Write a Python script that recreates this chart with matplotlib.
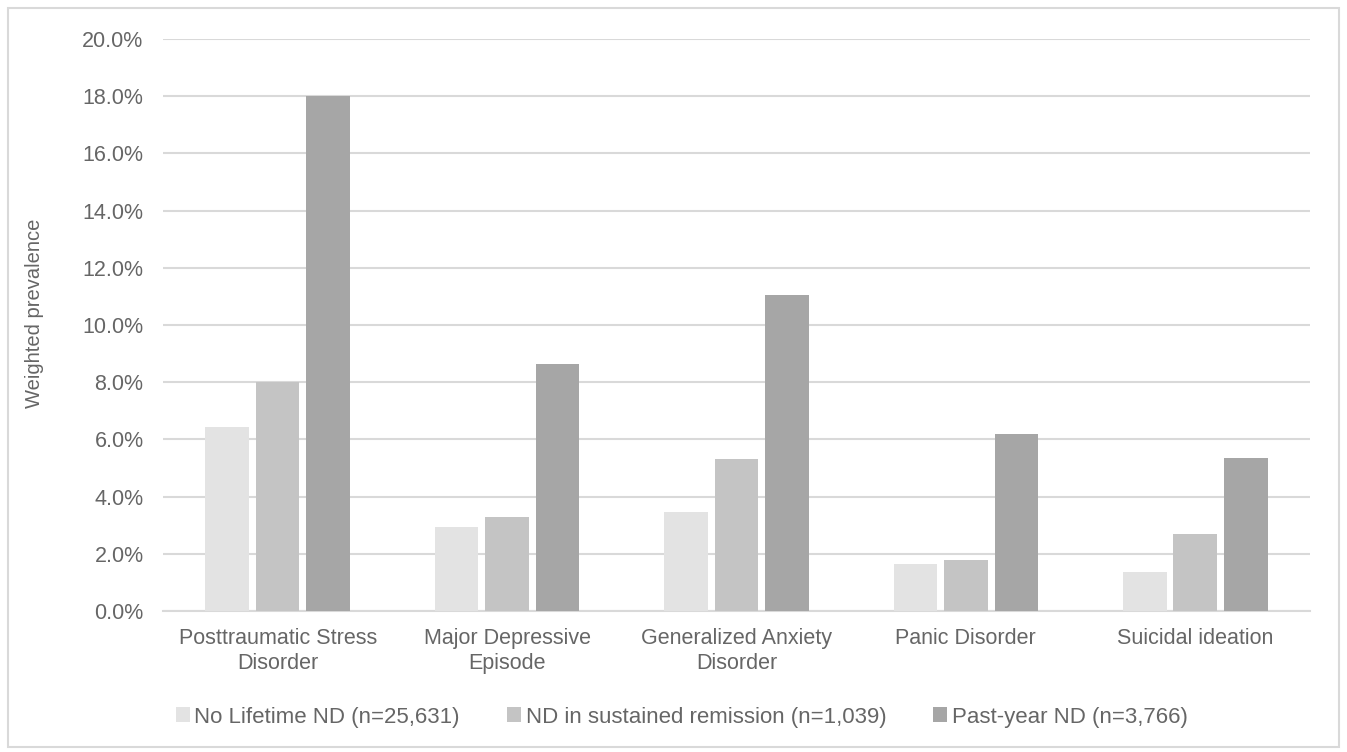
import matplotlib.pyplot as plt
from matplotlib.patches import Rectangle
from matplotlib.ticker import FuncFormatter
import numpy as np

categories = ['Posttraumatic Stress\nDisorder', 'Major Depressive\nEpisode',
              'Generalized Anxiety\nDisorder', 'Panic Disorder', 'Suicidal ideation']
series_names = ['No Lifetime ND (n=25,631)', 'ND in sustained remission (n=1,039)',
                'Past-year ND (n=3,766)']
no_lifetime = [6.45, 2.95, 3.45, 1.65, 1.35]
remission = [8.0, 3.3, 5.32, 1.8, 2.7]
past_year = [18.0, 8.65, 11.05, 6.18, 5.35]
colors = ['#e3e3e3', '#c4c4c4', '#a6a6a6']

plt.rcParams['font.family'] = ['Liberation Sans', 'DejaVu Sans']
txt = '#666666'

fig = plt.figure(figsize=(13.47, 7.52), dpi=100)
fig.patches.append(Rectangle((8 / 1347, 5 / 752), 1331 / 1347, 739 / 752,
                             transform=fig.transFigure, fill=False,
                             edgecolor='#d9d9d9', linewidth=1.5))
ax = fig.add_axes([0.121, 0.1875, 0.8515, 0.7605])

x = np.arange(len(categories))
w = 0.19
step = 0.22
for i, vals in enumerate([no_lifetime, remission, past_year]):
    ax.bar(x + (i - 1) * step, vals, width=w, color=colors[i],
           label=series_names[i], zorder=3)

ax.set_xlim(-0.5, len(categories) - 0.5)
ax.set_ylim(0, 20)
ax.set_yticks(np.arange(0, 20.1, 2))
ax.yaxis.set_major_formatter(FuncFormatter(lambda v, p: f'{v:.1f}%'))
ax.set_xticks(x)
ax.set_xticklabels(categories, linespacing=1.3)
ax.grid(axis='y', color='#d9d9d9', linewidth=1.5, zorder=0)
for s in ['top', 'right', 'left']:
    ax.spines[s].set_visible(False)
ax.spines['bottom'].set_color('#d9d9d9')
ax.spines['bottom'].set_linewidth(1.5)
ax.tick_params(axis='both', length=0, labelsize=15.5, labelcolor=txt)
ax.tick_params(axis='y', pad=14)
ax.tick_params(axis='x', pad=12)

ax.set_ylabel('Weighted prevalence', fontsize=14.5, color=txt)
ax.yaxis.set_label_coords(-0.104, 0.52)

fig.legend(loc='center', bbox_to_anchor=(0.506, 0.0465), ncol=3, frameon=False,
           fontsize=16, labelcolor=txt, handlelength=0.65, handleheight=0.65,
           handletextpad=0.2, columnspacing=2.1)

plt.savefig('out.png', dpi=100)
